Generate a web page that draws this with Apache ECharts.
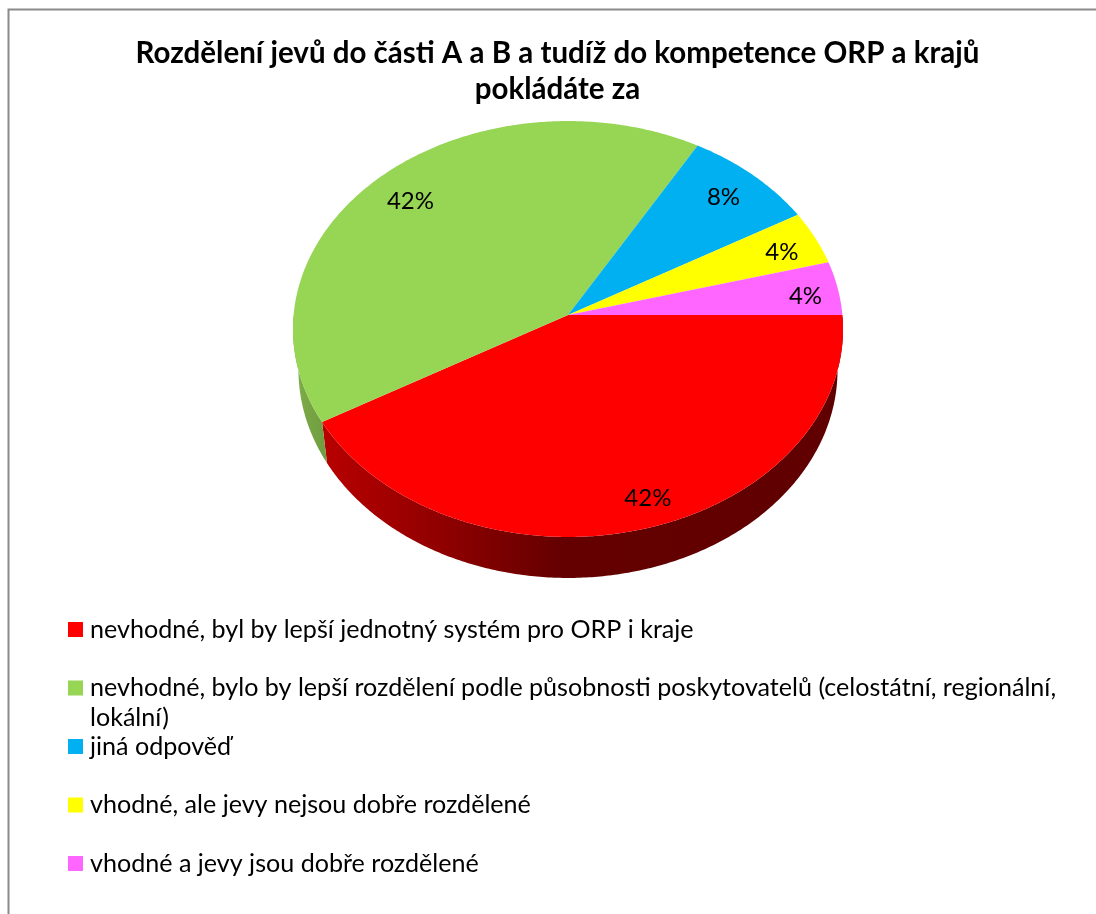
<!DOCTYPE html>
<html><head><meta charset="utf-8">
<style>html,body{margin:0;padding:0;background:#fff}#c{width:1096px;height:914px}</style>
<script src="https://cdn.jsdelivr.net/npm/echarts@6/dist/echarts.min.js"></script>
</head><body><div id="c"></div>
<script>
const titleLines = ['Rozdělení jevů do části A a B a tudíž do kompetence ORP a krajů', 'pokládáte za'];
const categories = [
  'nevhodné, byl by lepší jednotný systém pro ORP i kraje',
  'nevhodné, bylo by lepší rozdělení podle působnosti poskytovatelů (celostátní, regionální,\nlokální)',
  'jiná odpověď',
  'vhodné, ale jevy nejsou dobře rozdělené',
  'vhodné a jevy jsou dobře rozdělené'
];
const counts = [10, 10, 2, 1, 1];
const colors = ['#FF0000', '#97D555', '#00B0F0', '#FFFF00', '#FF66FF'];

const FONT = 'Lato';
const labelNudge = [[16, 3], [1, 6], [-3, 2], [3, 3], [8, 4]];
const total = counts.reduce((a, b) => a + b, 0);
const P = {cx: 568, cy: 315, A: 274.4, B: 207, k: 0.0673, depth: 41, base: 0.98, labelR: 0.85};

function project(theta, r, lower) {
  const c = Math.cos(theta) * r, s = Math.sin(theta) * r, w = 1 - P.k * s;
  const f = lower ? P.base : 1;
  return [P.cx + f * P.A * c / w, P.cy + (lower ? P.depth : 0) + P.B * s / w];
}
function arc(a0, a1, lower) {
  const n = Math.max(2, Math.ceil(Math.abs(a1 - a0) / 0.01)), pts = [];
  for (let i = 0; i <= n; i++) pts.push(project(a0 + (a1 - a0) * i / n, 1, lower));
  return pts;
}
function sideFill(i) {
  if (i === 0) return new echarts.graphic.LinearGradient(322, 0, 843, 0, [
    {offset: 0, color: '#B80000'}, {offset: 0.25, color: '#8C0000'}, {offset: 0.46, color: '#640000'}, {offset: 1, color: '#600000'}
  ], true);
  return new echarts.graphic.LinearGradient(293, 0, 330, 0, [
    {offset: 0, color: '#7FAE48'}, {offset: 1, color: '#6E9A3E'}
  ], true);
}
function makeRender(i) {
  const before = counts.slice(0, i).reduce((a, b) => a + b, 0);
  return function (params, api) {
    const v = api.value(0);
    const a0 = before / total * 2 * Math.PI, a1 = (before + v) / total * 2 * Math.PI;
    const children = [];
    const sa = Math.max(a0, 0), sb = Math.min(a1, Math.PI);
    if (sb > sa) {
      children.push({type: 'polygon', silent: true,
        shape: {points: arc(sa, sb, false).concat(arc(sb, sa, true))},
        style: {fill: sideFill(i)}});
    }
    children.push({type: 'polygon',
      shape: {points: [project(0, 0, false)].concat(arc(a0, a1, false))},
      style: {fill: colors[i]}});
    const lp = project((a0 + a1) / 2, P.labelR, false);
    children.push({type: 'text', z2: 50, style: {
      x: lp[0] + labelNudge[i][0], y: lp[1] + labelNudge[i][1], text: Math.round(v / total * 100) + '%',
      fill: '#000', font: '400 24px ' + FONT, align: 'center', verticalAlign: 'middle'}});
    return {type: 'group', children};
  };
}
const series = categories.map((name, i) => ({
  type: 'custom', name, coordinateSystem: 'none', clip: false, animation: false,
  itemStyle: {color: colors[i]}, data: [[counts[i]]], renderItem: makeRender(i)
}));
const chart = echarts.init(document.getElementById('c'), null, {renderer: 'canvas'});
chart.setOption({
  animation: false,
  color: colors,
  title: {text: titleLines.join('\n'), left: 552.5, top: 30, textAlign: 'center',
    textStyle: {fontFamily: FONT, fontWeight: 700, fontSize: 29.5, lineHeight: 36, color: '#000'}},
  legend: {orient: 'vertical', left: 68, top: 617, padding: 0, icon: 'rect', itemWidth: 15, itemHeight: 15,
    itemGap: 33.5, selectedMode: false, data: categories,
    formatter: n => n.split('\n')[0],
    textStyle: {fontFamily: FONT, fontSize: 25.1, lineHeight: 24, color: '#000', padding: [0, 0, 0, 2]}},
  graphic: [
    {type: 'rect', silent: true, shape: {x: 8.5, y: 9.5, width: 1200, height: 1000},
      style: {fill: 'none', stroke: '#8A8A8A', lineWidth: 2}, z: -1},
    {type: 'text', silent: true, style: {x: 90, y: 718, text: categories[1].split('\n')[1],
      font: '400 25.1px ' + FONT, fill: '#000', verticalAlign: 'middle'}}
  ],
  series
});
</script></body></html>
